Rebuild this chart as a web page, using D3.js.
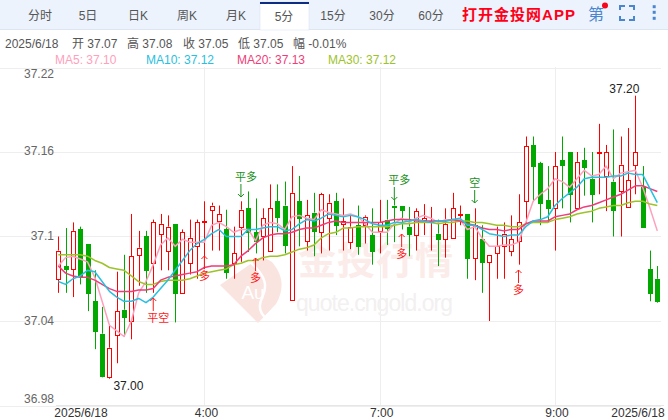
<!DOCTYPE html>
<html><head><meta charset="utf-8">
<script src="https://cdn.jsdelivr.net/npm/d3@7/dist/d3.min.js"></script>
<style>html,body{margin:0;padding:0;background:#fff}svg{display:block}text{font-family:"Liberation Sans","Noto Sans CJK SC",sans-serif}</style>
</head><body><svg id="c" width="668" height="420"></svg>
<script>
const tabLabels=["分时","5日","日K","周K","月K","5分","15分","30分","60分"];
const infoLabels=["2025/6/18","开 37.07","高 37.08","收 37.05","低 37.05","幅 -0.01%"];
const maLabels=["MA5: 37.10","MA10: 37.12","MA20: 37.13","MA30: 37.12"];
const yTicks=[37.22,37.16,37.1,37.04,36.98];
const xTickIdx=[20,44,68];
const xTickLabels=["4:00","7:00","9:00"];
const dateLabel="2025/6/18";
const opens=[37.070,37.079,37.077,37.105,37.095,37.054,37.031,37.000,37.030,37.048,37.040,37.087,37.100,37.081,37.102,37.090,37.109,37.060,37.081,37.093,37.110,37.119,37.111,37.105,37.081,37.107,37.120,37.103,37.100,37.090,37.125,37.122,37.055,37.125,37.097,37.117,37.103,37.113,37.125,37.109,37.096,37.108,37.108,37.101,37.104,37.112,37.122,37.122,37.107,37.101,37.112,37.111,37.102,37.098,37.099,37.115,37.116,37.085,37.098,37.082,37.088,37.093,37.090,37.097,37.125,37.165,37.152,37.126,37.120,37.154,37.160,37.120,37.154,37.141,37.160,37.143,37.139,37.132,37.121,37.151,37.135,37.077,37.070];
const closes=[37.090,37.077,37.104,37.072,37.060,37.033,37.001,37.021,37.047,37.043,37.086,37.092,37.076,37.110,37.109,37.107,37.060,37.103,37.099,37.110,37.111,37.122,37.116,37.075,37.088,37.119,37.103,37.097,37.113,37.120,37.114,37.094,37.131,37.113,37.115,37.104,37.130,37.124,37.108,37.111,37.107,37.093,37.114,37.090,37.110,37.106,37.121,37.119,37.102,37.118,37.113,37.111,37.098,37.109,37.120,37.116,37.085,37.108,37.082,37.087,37.093,37.102,37.098,37.110,37.164,37.150,37.124,37.120,37.150,37.151,37.130,37.153,37.149,37.130,37.160,37.160,37.119,37.151,37.140,37.160,37.107,37.060,37.054];
const highs=[37.100,37.106,37.110,37.107,37.095,37.076,37.050,37.037,37.075,37.087,37.116,37.104,37.104,37.112,37.116,37.115,37.109,37.105,37.112,37.112,37.125,37.124,37.122,37.119,37.107,37.125,37.132,37.127,37.120,37.137,37.137,37.139,37.150,37.143,37.126,37.131,37.131,37.130,37.131,37.127,37.115,37.122,37.115,37.120,37.126,37.126,37.126,37.122,37.121,37.120,37.123,37.121,37.112,37.120,37.131,37.122,37.116,37.120,37.108,37.087,37.107,37.110,37.115,37.130,37.171,37.171,37.153,37.150,37.160,37.171,37.160,37.160,37.163,37.160,37.180,37.165,37.176,37.171,37.177,37.200,37.150,37.090,37.079];
const lows=[37.060,37.060,37.057,37.066,37.047,37.020,37.000,36.999,37.010,37.029,37.027,37.065,37.060,37.060,37.076,37.076,37.039,37.060,37.073,37.070,37.077,37.090,37.090,37.070,37.070,37.082,37.089,37.088,37.083,37.089,37.103,37.088,37.055,37.093,37.090,37.086,37.088,37.090,37.101,37.090,37.091,37.087,37.095,37.080,37.088,37.094,37.096,37.105,37.086,37.090,37.101,37.090,37.079,37.085,37.099,37.108,37.070,37.069,37.060,37.040,37.070,37.070,37.086,37.080,37.109,37.125,37.108,37.110,37.090,37.120,37.110,37.119,37.129,37.110,37.130,37.118,37.100,37.100,37.121,37.130,37.107,37.054,37.053];
const ma5=[37.079,37.085,37.086,37.084,37.082,37.071,37.054,37.037,37.033,37.029,37.040,37.060,37.068,37.080,37.094,37.099,37.093,37.098,37.096,37.096,37.096,37.108,37.110,37.107,37.103,37.105,37.105,37.097,37.108,37.110,37.109,37.105,37.114,37.115,37.113,37.112,37.119,37.117,37.116,37.115,37.116,37.114,37.109,37.103,37.103,37.103,37.109,37.113,37.110,37.113,37.115,37.113,37.110,37.112,37.111,37.112,37.105,37.107,37.099,37.093,37.093,37.094,37.094,37.096,37.110,37.125,37.130,37.134,37.141,37.139,37.135,37.141,37.147,37.143,37.144,37.150,37.141,37.145,37.146,37.147,37.135,37.120,37.104];
const ma10=[37.068,37.066,37.070,37.072,37.076,37.075,37.068,37.061,37.057,37.054,37.054,37.056,37.053,37.057,37.063,37.069,37.076,37.083,37.090,37.095,37.098,37.102,37.105,37.100,37.100,37.100,37.105,37.105,37.106,37.107,37.107,37.104,37.105,37.109,37.112,37.111,37.113,37.116,37.115,37.114,37.115,37.114,37.112,37.109,37.108,37.108,37.110,37.110,37.111,37.112,37.111,37.110,37.111,37.111,37.112,37.113,37.108,37.108,37.105,37.102,37.101,37.100,37.101,37.101,37.107,37.111,37.112,37.114,37.122,37.127,37.131,37.135,37.141,37.142,37.142,37.142,37.143,37.143,37.145,37.144,37.144,37.134,37.124];
const ma20=[37.079,37.074,37.072,37.071,37.071,37.069,37.066,37.063,37.061,37.061,37.061,37.062,37.062,37.063,37.069,37.071,37.072,37.073,37.074,37.075,37.078,37.079,37.079,37.079,37.080,37.086,37.090,37.095,37.099,37.101,37.102,37.102,37.103,37.105,37.106,37.106,37.108,37.110,37.111,37.110,37.110,37.110,37.110,37.110,37.110,37.111,37.112,37.112,37.112,37.111,37.111,37.111,37.111,37.111,37.112,37.111,37.109,37.108,37.106,37.105,37.105,37.104,37.105,37.105,37.109,37.111,37.111,37.111,37.114,37.115,37.116,37.119,37.121,37.122,37.124,37.126,37.128,37.130,37.133,37.136,37.136,37.134,37.132];
const ma30=[37.087,37.087,37.087,37.087,37.086,37.083,37.081,37.078,37.077,37.076,37.072,37.068,37.066,37.066,37.068,37.069,37.069,37.069,37.070,37.072,37.074,37.075,37.076,37.077,37.080,37.081,37.083,37.083,37.085,37.086,37.086,37.087,37.089,37.091,37.092,37.094,37.099,37.102,37.103,37.106,37.106,37.107,37.107,37.107,37.107,37.107,37.108,37.109,37.109,37.110,37.110,37.110,37.109,37.110,37.110,37.111,37.111,37.110,37.110,37.109,37.108,37.108,37.107,37.107,37.109,37.110,37.110,37.110,37.112,37.113,37.114,37.116,37.117,37.118,37.120,37.121,37.122,37.122,37.124,37.125,37.125,37.123,37.122];
const signalIdx=[13,20,25,27,46,47,57,63];
const signalText=["平空","多","平多","多","平多","多","空","多"];
const signalDir=["up","up","down","up","down","up","down","up"];

const svg=d3.select("#c");
const RED="#ff0000",GREEN="#00a800";
const x=d3.scaleLinear().domain([0,opens.length-1]).range([58.3,657.3]);
const y=d3.scaleLinear().domain([36.98,37.22]).range([405.5,67.5]);

// header
svg.append("rect").attr("width",668).attr("height",29).attr("fill","#edf3fc");
svg.append("rect").attr("y",29).attr("width",668).attr("height",1).attr("fill","#dde5f1");
const tabCx=[40,88,138,187,236,284,333,382,431];
svg.append("rect").attr("x",260).attr("y",2).attr("width",49).attr("height",28).attr("fill","#fff").attr("stroke","#dbe4f2").attr("stroke-width",.6);
svg.append("rect").attr("x",260).attr("y",2).attr("width",49).attr("height",2).attr("fill","#0c2d83");
svg.selectAll(".tab").data(tabLabels).join("text").attr("class","tab")
 .attr("x",(d,i)=>tabCx[i]).attr("y",(d,i)=>i==5?21:20).attr("text-anchor","middle").attr("font-size",12).attr("fill","#555").text(d=>d);
svg.append("text").attr("x",462).attr("y",20).attr("font-size",15).attr("font-weight","700").attr("fill","#ff0018").attr("textLength",113).text("打开金投网APP");
svg.append("text").attr("x",596).attr("y",20).attr("text-anchor","middle").attr("font-size",16).attr("fill","#4a86cf").text("第");
svg.append("circle").attr("cx",605).attr("cy",5.5).attr("r",3).attr("fill","#f5061c");
svg.append("path").attr("fill","none").attr("stroke","#4a86cf").attr("stroke-width",2)
 .attr("d","M620 10V6H625M629 6H634V10M634 16V20H629M625 20H620V16");
[6.7,12.3,18.3].forEach(v=>svg.append("rect").attr("x",652.7).attr("y",v-1.5).attr("width",3).attr("height",3).attr("fill","#4a86cf"));

// info rows
const infoX=[5,72,127,183,238,293];
svg.selectAll(".info").data(infoLabels).join("text").attr("class","info").attr("x",(d,i)=>infoX[i]).attr("y",48).attr("font-size",12).attr("fill","#555").text(d=>d);
const maX=[55,146,237,328],maColors=["#ffa0bc","#27c0e0","#ee3d78","#9dc32a"];
svg.selectAll(".mal").data(maLabels).join("text").attr("class","mal").attr("x",(d,i)=>maX[i]).attr("y",64).attr("font-size",12).attr("fill",(d,i)=>maColors[i]).text(d=>d);

// grid
const GRID="#eeeeee";
svg.selectAll(".gh").data(yTicks).join("line").attr("x1",0).attr("x2",661).attr("y1",d=>Math.round(y(d))+.5).attr("y2",d=>Math.round(y(d))+.5).attr("stroke",GRID);
svg.selectAll(".gv").data(xTickIdx).join("line").attr("x1",d=>Math.round(x(d))+.5).attr("x2",d=>Math.round(x(d))+.5).attr("y1",67).attr("y2",405).attr("stroke",GRID);

// watermark
const wm=svg.append("g");
wm.append("path").attr("fill","#f9e4e0").attr("d","M220 285L262 256L272 262C284 276 284 290 276 304L258 323Z");
wm.append("path").attr("fill","none").attr("stroke","#fff").attr("stroke-width",2.5).attr("d","M250 262C266 276 268 286 262 298C258 306 260 314 268 320");
wm.append("text").attr("x",253).attr("y",299).attr("text-anchor","middle").attr("font-size",19).attr("fill","#fff").text("Au");
wm.append("text").attr("x",298).attr("y",274).attr("font-size",38).attr("font-weight","700").attr("fill","#fbecea").attr("textLength",155).text("金投行情");
wm.append("text").attr("x",296).attr("y",311).attr("font-size",23).attr("fill","#f2f0f0").attr("textLength",157).text("quote.cngold.org");

// y axis labels
const yLabelShift={37.22:5.5,37.16:-2,37.1:-1.5,37.04:-1,36.98:-7};
const ax=svg.append("g").attr("transform","translate(54,0)").call(d3.axisLeft(y).tickValues(yTicks).tickFormat(d=>String(d)).tickSize(0).tickPadding(0));
ax.select(".domain").remove();
ax.selectAll("text").attr("font-size",12).attr("fill","#666").attr("font-family",null).attr("dy",function(d){return (yLabelShift[d]+4)+"px"});

// x labels
const xl=svg.append("g").attr("transform","translate(0,405)");
xl.append("line").attr("x1",56).attr("x2",664).attr("y1",.5).attr("y2",.5).attr("stroke","#e6e6e6");
const xLab=xTickIdx.map((d,i)=>({x:x(d)+2,t:xTickLabels[i]})).concat([{x:81,t:dateLabel},{x:638,t:dateLabel}]);
xl.selectAll("text").data(xLab).join("text").attr("x",d=>d.x).attr("y",11.5).attr("text-anchor","middle").attr("font-size",12).attr("fill","#333").text(d=>d.t);

// candles
const idx=d3.range(opens.length);
const BW=5;
const g=svg.append("g").attr("class","candles");
idx.forEach(i=>{
  const up=closes[i]>=opens[i];
  const col=up?RED:GREEN, cx=Math.round(x(i))+.5;
  const top=y(Math.max(opens[i],closes[i])),bot=y(Math.min(opens[i],closes[i]));
  const rt=Math.round(top)+.5,rb=Math.max(Math.round(bot)+.5,rt+1);
  g.append("line").attr("x1",cx).attr("x2",cx).attr("y1",y(highs[i])).attr("y2",top).attr("stroke",col);
  g.append("line").attr("x1",cx).attr("x2",cx).attr("y1",bot).attr("y2",y(lows[i])).attr("stroke",col);
  g.append("rect").attr("x",cx-2).attr("y",rt).attr("width",BW-1).attr("height",rb-rt)
   .attr("fill",up?"#fff":GREEN).attr("stroke",col);
});

// moving averages
const line=d3.line().x((d,i)=>x(i)).y(d=>y(d));
[ma5,ma30,ma20,ma10].forEach((s,k)=>{
  svg.append("path").datum(s).attr("fill","none").attr("stroke",[maColors[0],maColors[3],maColors[2],maColors[1]][k]).attr("stroke-width",1.5).attr("stroke-linejoin","round").attr("d",line);
});

// signals
signalIdx.forEach((ci,k)=>{
  const up=signalDir[k]=="up", col=up?"#ff1a1a":"#1a8f1a";
  const cx=x(ci);
  const yBase={13:298,20:256,25:184,27:258,46:187,47:234,57:190,63:270}[ci];
  const len=13;
  const sg=svg.append("g").attr("fill","none").attr("stroke",col);
  sg.append("line").attr("x1",cx).attr("x2",cx).attr("y1",yBase).attr("y2",yBase+len);
  if(up) sg.append("path").attr("d",`M${cx-3} ${yBase+3}L${cx} ${yBase}L${cx+3} ${yBase+3}`);
  else sg.append("path").attr("d",`M${cx-3} ${yBase+len-3}L${cx} ${yBase+len}L${cx+3} ${yBase+len-3}`);
  const tx=cx+(signalText[k].length>1?5:0);
  const ty=up?yBase+len+11:yBase-3;
  svg.append("text").attr("x",tx).attr("y",ty).attr("text-anchor","middle").attr("font-size",11).attr("fill",col).text(signalText[k]);
});

// extreme labels
const iMax=highs.indexOf(d3.max(highs)),iMin=lows.indexOf(d3.min(lows));
svg.append("text").attr("x",x(iMax)-11).attr("y",y(highs[iMax])-3).attr("text-anchor","middle").attr("font-size",12).attr("fill","#222").text(highs[iMax].toFixed(2));
svg.append("text").attr("x",x(iMin)+19).attr("y",y(lows[iMin])+11).attr("text-anchor","middle").attr("font-size",12).attr("fill","#222").text("37.00");
</script></body></html>
